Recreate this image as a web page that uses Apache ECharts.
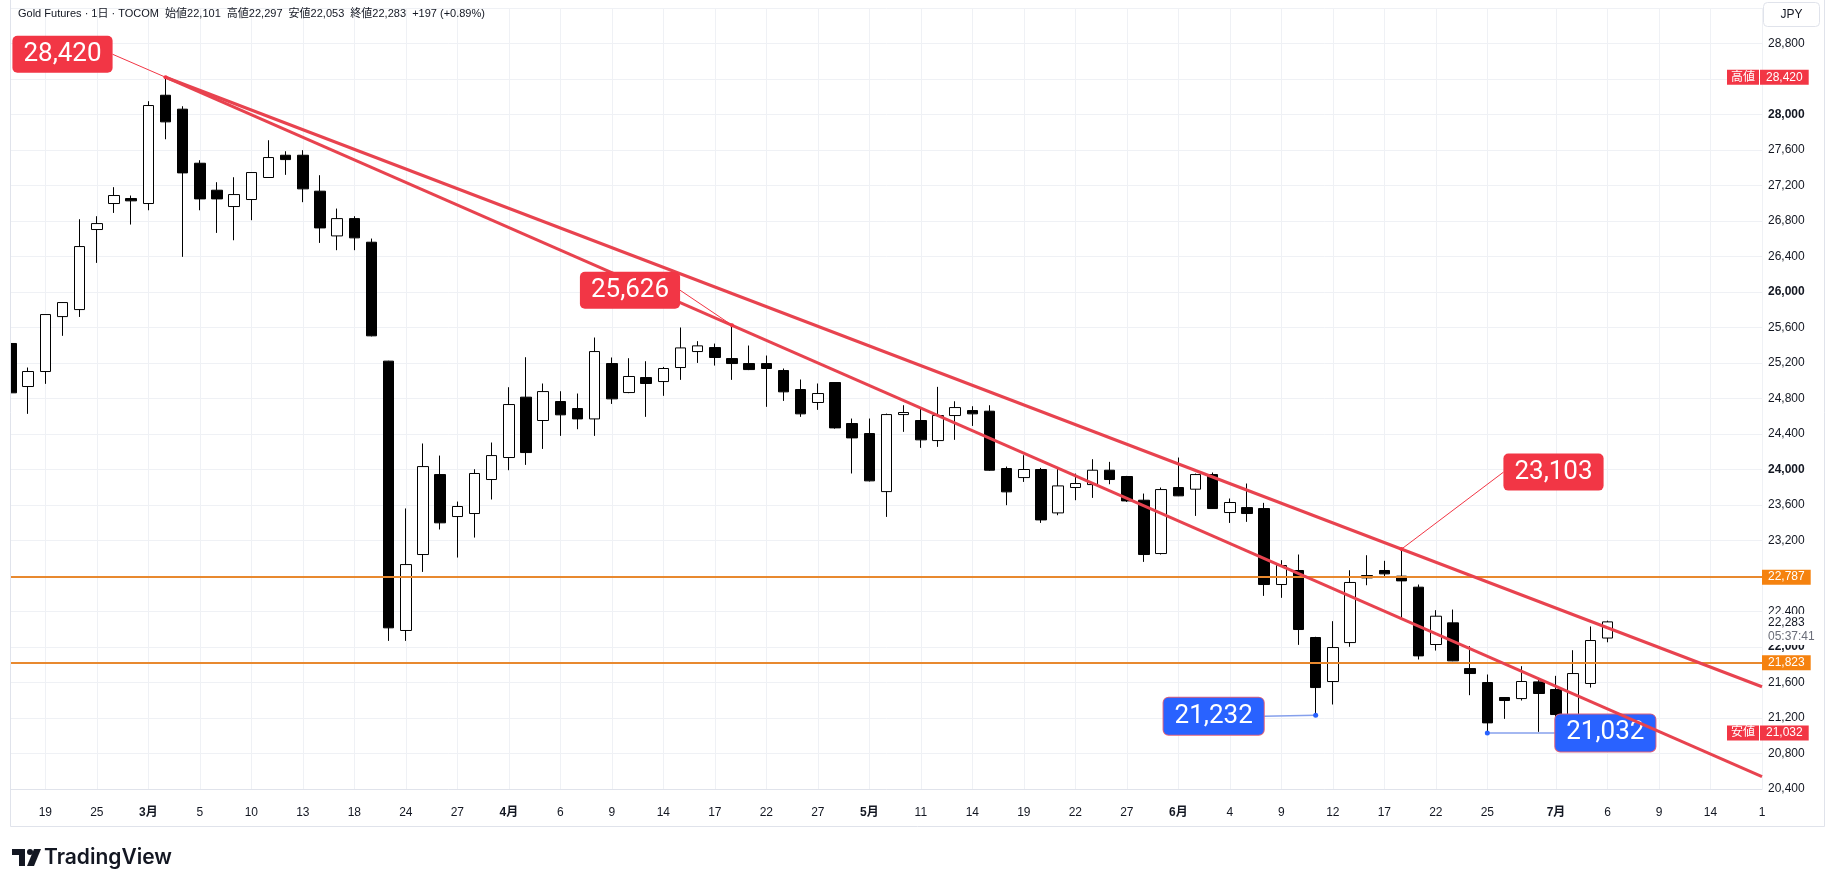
<!DOCTYPE html>
<html>
<head>
<meta charset="utf-8">
<title>Gold Futures · 1日 · TOCOM</title>
<script src="https://cdn.jsdelivr.net/npm/echarts@6/dist/echarts.min.js"></script>
<style>
  html, body { margin: 0; padding: 0; background: #fff; }
  #chart { width: 1827px; height: 887px; }
</style>
</head>
<body>
<div id="chart"></div>
<script>
// trading days on the time scale (the last ones are still in the future)
const dates = [
  '02-17','02-18','02-19','02-20','02-24','02-25','02-26','02-27',
  '03-02','03-03','03-04','03-05','03-06','03-09','03-10','03-11','03-12','03-13',
  '03-16','03-17','03-18','03-19','03-23','03-24','03-25','03-26','03-27','03-30','03-31',
  '04-01','04-02','04-03','04-06','04-07','04-08','04-09','04-10','04-13','04-14','04-15',
  '04-16','04-17','04-20','04-21','04-22','04-23','04-24','04-27','04-28','04-30',
  '05-01','05-07','05-08','05-11','05-12','05-13','05-14','05-15','05-18','05-19','05-20',
  '05-21','05-22','05-25','05-26','05-27','05-28','05-29',
  '06-01','06-02','06-03','06-04','06-05','06-08','06-09','06-10','06-11','06-12','06-15',
  '06-16','06-17','06-18','06-19','06-22','06-23','06-24','06-25','06-26','06-29','06-30',
  '07-01','07-02','07-03','07-06','07-07','07-08','07-09','07-10','07-13','07-14','07-15',
  '07-16','07-17'
];

// open, close, low, high
const ohlc = [
  [25420, 24864, 24676, 25521], [24935, 25104, 24627, 25149], [25104, 25746, 24965, 25750],
  [25723, 25881, 25506, 25885], [25802, 26512, 25719, 26820], [26704, 26771, 26328, 26854],
  [26997, 27087, 26891, 27181], [27053, 27027, 26760, 27087], [26997, 28101, 26921, 28150],
  [28217, 27917, 27721, 28420], [28060, 27342, 26396, 28093], [27451, 27049, 26921, 27485],
  [27147, 27049, 26666, 27237], [26963, 27098, 26583, 27293], [27042, 27346, 26809, 27350],
  [27290, 27515, 27285, 27710], [27541, 27492, 27320, 27586], [27541, 27162, 27012, 27598],
  [27136, 26722, 26553, 27316], [26632, 26827, 26471, 26940], [26827, 26610, 26471, 26854],
  [26561, 25506, 25500, 26602], [25221, 22216, 22069, 25225], [22186, 22929, 22069, 23561],
  [23042, 24033, 22846, 24293], [23943, 23399, 23324, 24157], [23470, 23583, 23008, 23639],
  [23504, 23955, 23233, 24003], [23887, 24157, 23662, 24304], [24135, 24732, 23992, 24927],
  [24815, 24191, 24052, 25265], [24552, 24878, 24232, 24969], [24766, 24616, 24379, 24882],
  [24687, 24570, 24454, 24856], [24570, 25329, 24379, 25487], [25194, 24796, 24739, 25262],
  [24867, 25048, 24860, 25254], [25036, 24969, 24593, 25220], [24991, 25138, 24830, 25156],
  [25149, 25370, 25010, 25600], [25329, 25393, 25201, 25446], [25374, 25262, 25171, 25419],
  [25250, 25194, 25010, 25626], [25194, 25126, 25120, 25397], [25194, 25138, 24706, 25284],
  [25115, 24875, 24773, 25138], [24901, 24627, 24593, 25014], [24755, 24856, 24672, 24969],
  [24980, 24469, 24460, 24985], [24518, 24356, 23955, 24574], [24405, 23872, 23865, 24574],
  [23751, 24619, 23466, 24630], [24619, 24642, 24424, 24724], [24552, 24334, 24244, 24698],
  [24326, 24608, 24255, 24931], [24608, 24698, 24334, 24769], [24664, 24627, 24491, 24713],
  [24657, 23992, 23985, 24724], [24011, 23748, 23598, 24033], [23909, 24000, 23860, 24161],
  [24000, 23432, 23398, 24018], [23511, 23815, 23485, 24018], [23797, 23842, 23654, 23954],
  [23830, 23992, 23680, 24116], [23992, 23887, 23834, 24086], [23921, 23646, 23635, 23928],
  [23654, 23042, 22959, 23729], [23053, 23774, 23042, 23797], [23797, 23703, 23700, 24135],
  [23778, 23943, 23477, 23954], [23943, 23560, 23555, 23966], [23515, 23628, 23398, 23673],
  [23571, 23504, 23410, 23842], [23560, 22704, 22576, 23624], [22704, 22918, 22554, 22978],
  [22862, 22197, 22024, 23042], [22107, 21543, 21232, 22115], [21611, 21994, 21352, 22291],
  [22050, 22727, 22002, 22865], [22805, 22779, 22696, 23034], [22862, 22824, 22779, 22971],
  [22798, 22745, 22321, 23103], [22674, 21900, 21859, 22704], [22028, 22347, 21960, 22415],
  [22272, 21844, 21840, 22422], [21757, 21701, 21457, 22009], [21600, 21145, 21032, 21690],
  [21431, 21397, 21190, 21435], [21419, 21611, 21397, 21784], [21607, 21476, 21044, 21645],
  [21521, 21239, 21194, 21675], [21239, 21701, 21235, 21964], [21589, 22073, 21543, 22231],
  [22101, 22283, 22053, 22297]
];

// time scale labels
const tickDates = ['02-19','02-25','03-02','03-05','03-10','03-13','03-18','03-24','03-27',
  '04-01','04-06','04-09','04-14','04-17','04-22','04-27','05-01','05-11','05-14','05-19',
  '05-22','05-27','06-01','06-04','06-09','06-12','06-17','06-22','06-25','07-01','07-06',
  '07-09','07-14','07-17'];
const tickTexts = ['19','25','3月','5','10','13','18','24','27','4月','6','9','14','17','22',
  '27','5月','11','14','19','22','27','6月','4','9','12','17','22','25','7月','6','9','14','1'];

// drawn trend lines: start point and where they leave the pane
const upperTrend = [['03-03', 28420], ['07-17', 21552]];
const lowerTrend = [['03-03', 28420], ['07-17', 20540]];
// horizontal levels
const levels = [22787, 21823];
const highValue = 28420;
const lowValue = 21032;
const lastPrice = 22283;
// price callouts
const calloutDates = ['03-03', '04-20', '06-18', '06-11', '06-25'];
const calloutValues = [28420, 25626, 23103, 21232, 21032];

const RED = '#f23645';
const BLUE = '#2962ff';
const ORANGE = '#e8892f';
const TREND = '#e8434f';
const TEXT = '#131722';
const GRID = '#eff1f5';

// where each callout box sits relative to its point (px)
const calloutLayout = [
  { dx: -103, dy: -23, fill: RED, z: 10 },
  { dx: -102, dy: -35, fill: RED, z: 10 },
  { dx: 152, dy: -77, fill: RED, z: 10 },
  { dx: -102, dy: 1, fill: BLUE, z: 10 },
  { dx: 118, dy: 0, fill: BLUE, z: 3 }
];

const fmt = v => v.toLocaleString('en-US');
const isTick = (i, v) => tickDates.indexOf(v) >= 0;

const chart = echarts.init(document.getElementById('chart'));

const option = {
  animation: false,
  backgroundColor: '#fff',
  grid: { left: 11, right: 65, top: 8, bottom: 98, containLabel: false },
  xAxis: {
    type: 'category',
    data: dates,
    boundaryGap: false,
    axisLine: { onZero: false, lineStyle: { color: '#e0e3eb' } },
    axisTick: { show: false },
    axisLabel: {
      interval: isTick,
      margin: 18,
      color: TEXT,
      fontSize: 12,
      fontFamily: '"Liberation Sans Narrow", "Arial Narrow", "Liberation Sans", "Noto Sans CJK JP", sans-serif',
      formatter: (v) => {
        const t = tickTexts[tickDates.indexOf(v)];
        if (t === undefined) return '';
        return t.indexOf('月') >= 0 ? '{m|' + t + '}' : t;
      },
      rich: {
        m: { fontWeight: 'bold', fontSize: 12, color: TEXT,
             fontFamily: '"Liberation Sans Narrow", "Liberation Sans", "Noto Sans CJK JP", sans-serif' }
      }
    },
    splitLine: { show: true, interval: isTick, lineStyle: { color: GRID, width: 1 } }
  },
  yAxis: {
    type: 'value',
    position: 'right',
    min: 20400,
    max: 29200,
    interval: 400,
    scale: true,
    axisLine: { show: false },
    axisTick: { show: false },
    axisLabel: {
      margin: 6,
      color: TEXT,
      fontSize: 12,
      fontFamily: '"Liberation Sans", Arial, sans-serif',
      formatter: (v) => {
        if (v >= 29200) return '';
        return v % 2000 === 0 ? '{b|' + fmt(v) + '}' : fmt(v);
      },
      rich: {
        b: { fontWeight: 'bold', fontSize: 12, color: TEXT, fontFamily: '"Liberation Sans", Arial, sans-serif' }
      }
    },
    splitLine: { lineStyle: { color: GRID, width: 1 } }
  },
  series: [
    {
      type: 'candlestick',
      data: ohlc,
      barWidth: 11,
      clip: true,
      z: 2,
      itemStyle: {
        color: '#ffffff',
        color0: '#000000',
        borderColor: '#000000',
        borderColor0: '#000000',
        borderWidth: 1
      },
      markLine: {
        silent: true,
        symbol: ['none', 'none'],
        z: 3,
        lineStyle: { color: ORANGE, width: 2, type: 'solid' },
        label: {
          show: true,
          position: 'end',
          distance: 0,
          formatter: p => fmt(p.value),
          color: '#fff',
          backgroundColor: '#f5820f',
          padding: [2, 6, 1, 6],
          fontSize: 12,
          fontFamily: '"Liberation Sans", Arial, sans-serif'
        },
        data: levels.map(v => ({ yAxis: v }))
      }
    },
    {
      type: 'line', data: upperTrend, symbol: 'none', silent: true, z: 4,
      lineStyle: { color: TREND, width: 3 }
    },
    {
      type: 'line', data: lowerTrend, symbol: 'none', silent: true, z: 4,
      lineStyle: { color: TREND, width: 3 }
    }
  ]
};

chart.setOption(option);

const toPx = (d, v) => chart.convertToPixel({ gridIndex: 0 }, [d, v]);
const yOf = v => chart.convertToPixel({ yAxisIndex: 0 }, v);
const g = [];

// mask left of the pane so the first candle is cut at the frame, then the frame
g.push({ type: 'rect', z: 29, silent: true,
  shape: { x: 0, y: 0, width: 10.5, height: 887 }, style: { fill: '#fff' } });
g.push({ type: 'rect', z: 30, silent: true,
  shape: { x: 10.5, y: -1, width: 1814, height: 827.5 },
  style: { fill: 'none', stroke: '#e0e3eb', lineWidth: 1 } });

// header
g.push({ type: 'text', z: 30, style: {
  x: 18, y: 14, align: 'left', verticalAlign: 'middle', fill: TEXT,
  text: 'Gold Futures · 1日 · TOCOM  始値22,101  高値22,297  安値22,053  終値22,283  +197 (+0.89%)',
  fontSize: 11, fontFamily: '"Liberation Sans", "Noto Sans CJK JP", sans-serif' } });

// JPY box
g.push({ type: 'rect', z: 30, shape: { x: 1763.5, y: 2.5, width: 56, height: 24, r: 4 },
  style: { fill: '#fff', stroke: '#e0e3eb', lineWidth: 1 } });
g.push({ type: 'text', z: 31, style: { x: 1791.5, y: 14.5, text: 'JPY', align: 'center',
  verticalAlign: 'middle', fill: TEXT, fontSize: 12, fontFamily: '"Liberation Sans", Arial, sans-serif' } });

// callouts
calloutDates.forEach((d, i) => {
  const p = toPx(d, calloutValues[i]);
  const L = calloutLayout[i];
  const cx = p[0] + L.dx, cy = p[1] + L.dy;
  const edge = L.dx < 0 ? cx + 50 : cx - 50;
  const isBlue = L.fill === BLUE;
  g.push({ type: 'line', z: L.z, silent: true,
    shape: { x1: p[0], y1: p[1], x2: edge, y2: cy },
    style: { stroke: isBlue ? '#86a0ec' : RED, lineWidth: isBlue ? 1.5 : 1 } });
  g.push({ type: 'circle', z: L.z + 1, shape: { cx: p[0], cy: p[1], r: isBlue ? 2.5 : 2 },
    style: { fill: isBlue ? BLUE : RED } });
  g.push({ type: 'text', z: L.z + 1, style: {
    x: cx, y: cy, text: fmt(calloutValues[i]), align: 'center', verticalAlign: 'middle',
    fill: '#fff', fontSize: 26, fontFamily: 'Roboto, "Liberation Sans", sans-serif',
    backgroundColor: L.fill, padding: [6, 11, 5, 11], borderRadius: 5,
    borderColor: isBlue ? '#e0627c' : L.fill, borderWidth: isBlue ? 1 : 0 } });
});

// high / low tags on the price scale
function scaleTag(title, value) {
  const y = yOf(value);
  const font = { fontSize: 12, fontFamily: '"Liberation Sans", "Noto Sans CJK JP", sans-serif' };
  g.push({ type: 'text', z: 40, style: Object.assign({ x: 1727, y: y, text: title, align: 'left',
    verticalAlign: 'middle', fill: '#fff', backgroundColor: RED, padding: [2, 4, 1, 4] }, font) });
  g.push({ type: 'text', z: 40, style: Object.assign({ x: 1760, y: y, text: fmt(value), align: 'left',
    verticalAlign: 'middle', fill: '#fff', backgroundColor: RED, padding: [2, 6, 1, 6] }, font) });
}
scaleTag('高値', highValue);
scaleTag('安値', lowValue);

// last price + countdown
const yl = yOf(lastPrice);
g.push({ type: 'rect', z: 35, shape: { x: 1764, y: yl - 8, width: 60, height: 31 },
  style: { fill: '#fff' } });
g.push({ type: 'text', z: 36, style: { x: 1768, y: yl + 1, text: fmt(lastPrice), align: 'left',
  verticalAlign: 'middle', fill: TEXT, fontSize: 12, fontFamily: '"Liberation Sans", Arial, sans-serif' } });
g.push({ type: 'text', z: 36, style: { x: 1768, y: yl + 15, text: '05:37:41', align: 'left',
  verticalAlign: 'middle', fill: '#6a6d78', fontSize: 12, fontFamily: '"Liberation Sans", Arial, sans-serif' } });

// TradingView logo
g.push({ type: 'rect', z: 30, shape: { x: 12, y: 849, width: 13, height: 6 }, style: { fill: TEXT } });
g.push({ type: 'rect', z: 30, shape: { x: 19, y: 849, width: 6, height: 17 }, style: { fill: TEXT } });
g.push({ type: 'circle', z: 30, shape: { cx: 30, cy: 852, r: 3 }, style: { fill: TEXT } });
g.push({ type: 'polygon', z: 30, shape: { points: [[34, 849], [41, 849], [34, 866], [27, 866]] }, style: { fill: TEXT } });
g.push({ type: 'text', z: 30, style: { x: 44, y: 858, text: 'TradingView', align: 'left',
  verticalAlign: 'middle', fill: TEXT, fontSize: 21, fontWeight: 600,
  fontFamily: 'Inter, "Liberation Sans", sans-serif' } });

chart.setOption({ graphic: g });
</script>
</body>
</html>
